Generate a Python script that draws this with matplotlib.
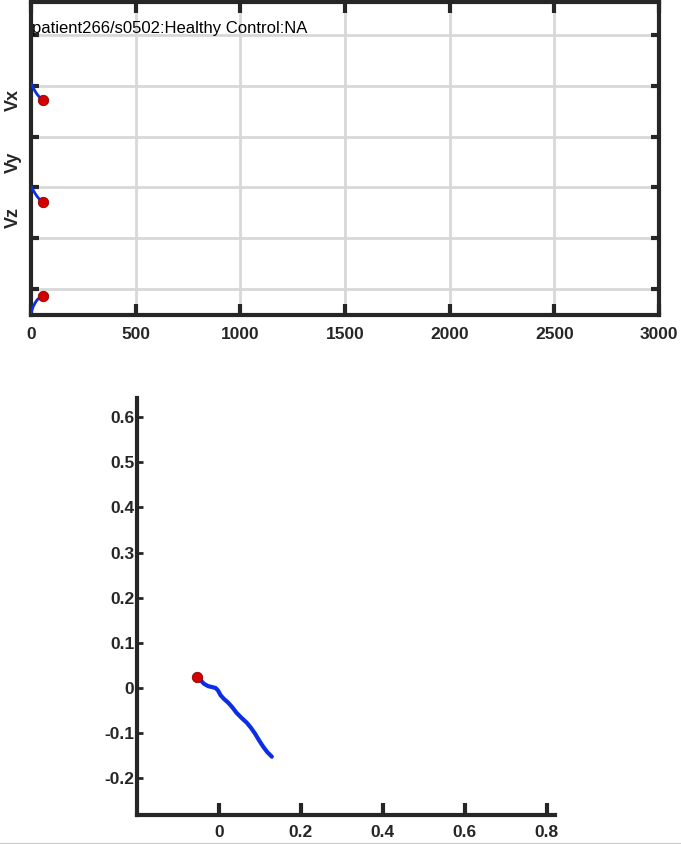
import numpy as np
import matplotlib
matplotlib.use("Agg")
import matplotlib.pyplot as plt

plt.rcParams['font.family'] = ['Liberation Sans', 'DejaVu Sans']

# top panel: vector components vs sample, stacked with offsets
t = [0, 10, 20, 30, 40, 50, 59]
vx = [5.06, 4.97, 4.89, 4.83, 4.78, 4.74, 4.72]
vy = [3.02, 2.95, 2.88, 2.82, 2.77, 2.74, 2.72]
vz = [0.53, 0.65, 0.73, 0.79, 0.83, 0.85, 0.86]
lead_names = ['Vx', 'Vy', 'Vz']
title = 'patient266/s0502:Healthy Control:NA'
xticks_top = [0, 500, 1000, 1500, 2000, 2500, 3000]

# bottom panel: loop in the x-y plane
loop_x = [-0.054, -0.046, -0.036, -0.026, -0.016, -0.008, -0.002, 0.004,
          0.012, 0.022, 0.032, 0.043, 0.055, 0.068, 0.078, 0.088,
          0.098, 0.108, 0.118, 0.129]
loop_y = [0.024, 0.018, 0.009, 0.004, 0.002, 0.000, -0.006, -0.016,
          -0.024, -0.032, -0.042, -0.055, -0.066, -0.077, -0.088, -0.101,
          -0.116, -0.130, -0.142, -0.152]
xticks_bot = [0, 0.2, 0.4, 0.6, 0.8]
yticks_bot = [-0.2, -0.1, 0, 0.1, 0.2, 0.3, 0.4, 0.5, 0.6]

blue = '#0a2ee6'
red = '#d40000'
dark = '#262626'
grid_c = '#d8d8d8'

fig = plt.figure(figsize=(6.81, 8.44), dpi=100)

ax = fig.add_axes([0.0455, 0.6268, 0.9222, 0.3708])
for v in (vx, vy, vz):
    ax.plot(t, v, color=blue, lw=2, solid_capstyle='round', zorder=3)
    ax.plot(t[-1], v[-1], 'o', ms=7.5, mfc=red, mec='#8a0000', mew=0.6, zorder=4)
ax.set_xlim(0, 3000)
ax.set_ylim(0.49, 6.65)
ax.set_xticks(xticks_top)
ax.set_xticklabels([str(v) for v in xticks_top], fontweight='bold', fontsize=12.5, color=dark)
ax.set_yticks([1, 2, 3, 4, 5, 6])
ax.set_yticklabels([])
ax.tick_params(axis='x', direction='in', length=8, width=3, color=dark, top=True, pad=9)
ax.tick_params(axis='y', direction='in', length=6, width=3, color=dark, right=True)
ax.grid(True, color=grid_c, lw=2)
ax.set_axisbelow(True)
for s in ax.spines.values():
    s.set_linewidth(3)
    s.set_color(dark)
ax.text(0.002, 0.914, title, transform=ax.transAxes, fontsize=12, color='black',
        ha='left', va='center')
for name, yp in zip(lead_names, [100, 162, 218]):
    fig.text(13 / 681, 1 - yp / 844, name, rotation=90, fontsize=13, fontweight='bold',
             color=dark, ha='center', va='center')

ax2 = fig.add_axes([0.2012, 0.0344, 0.6138, 0.494])
ax2.plot(loop_x, loop_y, color=blue, lw=3, solid_capstyle='round', zorder=3)
ax2.plot(loop_x[0], loop_y[0], 'o', ms=7.5, mfc=red, mec='#8a0000', mew=0.6, zorder=4)
ax2.set_xlim(-0.2, 0.82)
ax2.set_ylim(-0.281, 0.642)
ax2.set_xticks(xticks_bot)
ax2.set_xticklabels(['0' if v == 0 else f'{v:g}' for v in xticks_bot],
                    fontweight='bold', fontsize=12.5, color=dark)
ax2.set_yticks(yticks_bot)
ax2.set_yticklabels(['0' if v == 0 else f'{v:g}' for v in yticks_bot],
                    fontweight='bold', fontsize=12.5, color=dark)
ax2.tick_params(axis='x', direction='in', length=9, width=3, color=dark, pad=7)
ax2.tick_params(axis='y', direction='in', length=4, width=2, color=dark, pad=2)
for side in ('top', 'right'):
    ax2.spines[side].set_visible(False)
for side in ('left', 'bottom'):
    ax2.spines[side].set_linewidth(3)
    ax2.spines[side].set_color(dark)

fig.add_artist(plt.Line2D([0, 1], [0.5 / 844, 0.5 / 844], color='#c8c8c8', lw=1.5))

fig.savefig('out.png', dpi=100)
